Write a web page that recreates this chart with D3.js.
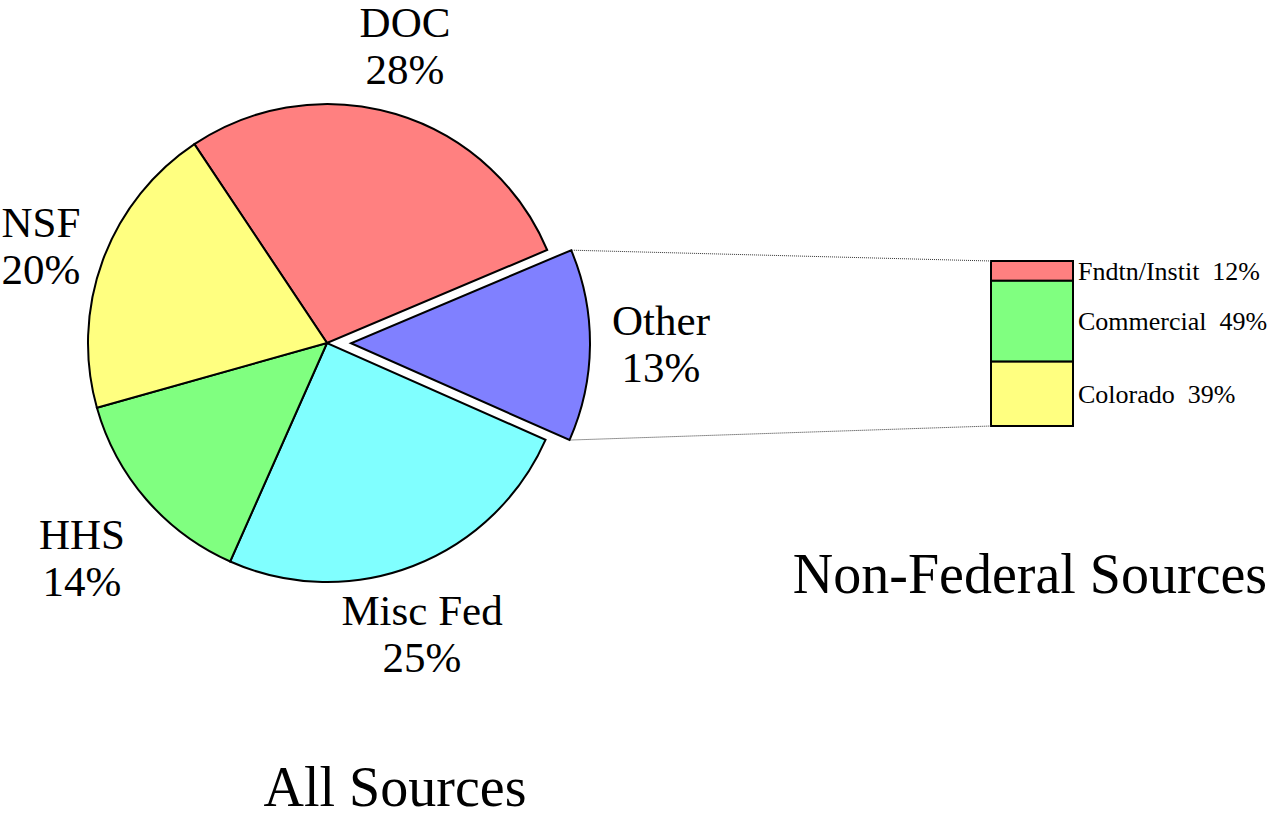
<!DOCTYPE html>
<html>
<head>
<meta charset="utf-8">
<script src="https://cdn.jsdelivr.net/npm/d3@7"></script>
<style>
  body { margin: 0; background: #fff; }
  text { font-family: "Liberation Serif", "Times New Roman", serif; fill: #000; }
</style>
</head>
<body>
<div id="viz"></div>
<script>
// ====================
// DATA
// ====================
const agencies = ['DOC', 'Other', 'Misc Fed', 'HHS', 'NSF'];
const agencyShares = [28, 13, 25, 14, 20];

const nonFedSources = ['Fndtn/Instit', 'Commercial', 'Colorado'];
const nonFedShares = [12, 49, 39];

// ====================
// SETUP
// ====================
const width = 1273;
const height = 818;

const cx = 327, cy = 343;
const radius = 239;
const explode = 24;
const startDeg = -33.7;

const pieColors = d3.scaleOrdinal()
  .domain(agencies)
  .range(['#ff8080', '#8080ff', '#80ffff', '#80ff80', '#ffff80']);

const barColors = d3.scaleOrdinal()
  .domain(nonFedSources)
  .range(['#ff8080', '#80ff80', '#ffff80']);

// label anchors (centre x, first baseline)
const labelPos = {
  'DOC': [405, 37],
  'Other': [661, 335],
  'Misc Fed': [422, 625],
  'HHS': [82, 549],
  'NSF': [41, 237]
};

const svg = d3.select('#viz')
  .append('svg')
  .attr('width', width)
  .attr('height', height);

// ====================
// PIE
// ====================
const pieData = agencies.map((name, i) => ({ name, value: agencyShares[i] }));

const pie = d3.pie()
  .sort(null)
  .value(d => d.value)
  .startAngle(startDeg * Math.PI / 180)
  .endAngle((startDeg + 360) * Math.PI / 180);

const arc = d3.arc().innerRadius(0).outerRadius(radius);
const arcs = pie(pieData);

// offset for the exploded slice
const offsetOf = d => {
  if (d.data.name !== 'Other') return [0, 0];
  const mid = (d.startAngle + d.endAngle) / 2;
  return [explode * Math.sin(mid), -explode * Math.cos(mid)];
};

const pieG = svg.append('g').attr('transform', `translate(${cx},${cy})`);

pieG.selectAll('path')
  .data(arcs)
  .join('path')
  .attr('d', arc)
  .attr('transform', d => `translate(${offsetOf(d)})`)
  .attr('fill', d => pieColors(d.data.name))
  .attr('stroke', '#000')
  .attr('stroke-width', 2)
  .attr('stroke-linejoin', 'miter');

// pie labels
const pieLabels = svg.append('g');
arcs.forEach(d => {
  const [x, y] = labelPos[d.data.name];
  const t = pieLabels.append('text')
    .attr('text-anchor', 'middle')
    .attr('font-size', 43);
  t.append('tspan').attr('x', x).attr('y', y).text(d.data.name);
  t.append('tspan').attr('x', x).attr('y', y + 47).text(d.data.value + '%');
});

// ====================
// STACKED BAR
// ====================
const barX = 991, barW = 82;
const y = d3.scaleLinear().domain([0, 100]).range([261, 426]);

let acc = 0;
const barData = nonFedSources.map((name, i) => {
  const d = { name, value: nonFedShares[i], y0: acc, y1: acc + nonFedShares[i] };
  acc += nonFedShares[i];
  return d;
});

const barG = svg.append('g');
barG.selectAll('rect')
  .data(barData)
  .join('rect')
  .attr('x', barX)
  .attr('y', d => y(d.y0))
  .attr('width', barW)
  .attr('height', d => y(d.y1) - y(d.y0))
  .attr('fill', d => barColors(d.name))
  .attr('stroke', '#000')
  .attr('stroke-width', 2);

barG.selectAll('text')
  .data(barData)
  .join('text')
  .attr('x', barX + barW + 5)
  .attr('y', d => (y(d.y0) + y(d.y1)) / 2 + 9)
  .attr('font-size', 26)
  .attr('xml:space', 'preserve')
  .text(d => `${d.name}  ${d.value}%`);

// ====================
// CONNECTORS
// ====================
const other = arcs.find(d => d.data.name === 'Other');
const off = offsetOf(other);
const corner = a => [cx + off[0] + radius * Math.sin(a), cy + off[1] - radius * Math.cos(a)];
const topC = corner(other.startAngle);
const botC = corner(other.endAngle);

svg.append('g')
  .selectAll('line')
  .data([[topC, [barX, y(0)]], [botC, [barX, y(100)]]])
  .join('line')
  .attr('x1', d => d[0][0] + 1)
  .attr('y1', d => d[0][1])
  .attr('x2', d => d[1][0])
  .attr('y2', d => d[1][1])
  .attr('stroke', '#333')
  .attr('stroke-width', 1)
  .attr('stroke-dasharray', '1,1');

// ====================
// TITLES
// ====================
svg.append('text')
  .attr('x', 1030).attr('y', 593)
  .attr('text-anchor', 'middle')
  .attr('font-size', 56)
  .text('Non-Federal Sources');

svg.append('text')
  .attr('x', 395).attr('y', 806)
  .attr('text-anchor', 'middle')
  .attr('font-size', 56)
  .text('All Sources');
</script>
</body>
</html>
